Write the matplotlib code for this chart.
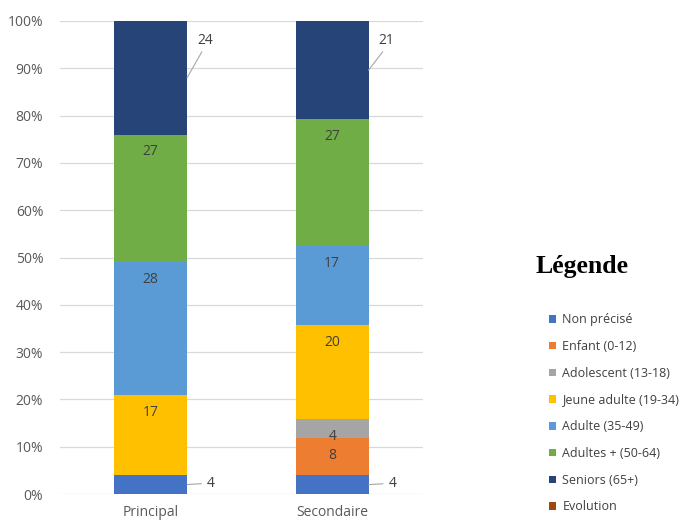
import numpy as np
import matplotlib
matplotlib.use("Agg")
import matplotlib.pyplot as plt
from matplotlib.patches import Patch

plt.rcParams['font.family'] = ['Open Sans', 'DejaVu Sans']

categories = ['Principal', 'Secondaire']
series = ['Non précisé', 'Enfant (0-12)', 'Adolescent (13-18)', 'Jeune adulte (19-34)',
          'Adulte (35-49)', 'Adultes + (50-64)', 'Seniors (65+)', 'Evolution']
colors = ['#4472C4', '#ED7D31', '#A5A5A5', '#FFC000', '#5B9BD5', '#70AD47', '#264478', '#9E480E']

non_precise = [4, 4]
enfant = [0, 8]
adolescent = [0, 4]
jeune_adulte = [17, 20]
adulte = [28, 17]
adultes_plus = [27, 27]
seniors = [24, 21]

values = np.array([non_precise, enfant, adolescent, jeune_adulte, adulte, adultes_plus, seniors], dtype=float)
pct = values / values.sum(axis=0) * 100

fig = plt.figure(figsize=(6.85, 5.21), dpi=100)
ax = fig.add_axes([60/685, 1 - 494/521, 363/685, 473/521])

x = np.arange(len(categories))
width = 0.4
bottom = np.zeros(len(categories))
for i in range(len(values)):
    ax.bar(x, pct[i], width, bottom=bottom, color=colors[i], zorder=3)
    for j in range(len(categories)):
        v = values[i, j]
        if v == 0:
            bottom[j] += pct[i, j]
            continue
        top = bottom[j] + pct[i, j]
        mid = bottom[j] + pct[i, j] / 2
        edge = x[j] + width / 2
        if i == 0:
            # small segment at bottom: label outside with leader line
            ax.annotate('%d' % v, xy=(edge, mid), xytext=(edge + 0.11, mid + 0.3),
                        ha='left', va='center', fontsize=10, color='#404040',
                        arrowprops=dict(arrowstyle='-', color='#A6A6A6', lw=0.8,
                                        shrinkA=2, shrinkB=0))
        elif i == 6:
            ax.annotate('%d' % v, xy=(edge, mid), xytext=(edge + 0.055, 95.9),
                        ha='left', va='center', fontsize=10, color='#404040',
                        arrowprops=dict(arrowstyle='-', color='#A6A6A6', lw=0.8,
                                        shrinkA=1, shrinkB=0, relpos=(0.45, 0)))
        else:
            ax.annotate('%d' % v, xy=(x[j], top), xytext=(0, -12.5),
                        textcoords='offset points', ha='center', va='center',
                        fontsize=10, color='#404040', zorder=4)
        bottom[j] += pct[i, j]

ax.set_xlim(-0.5, 1.5)
ax.set_ylim(0, 100)
ax.set_yticks(np.arange(0, 101, 10))
ax.set_yticklabels(['%d%%' % t for t in range(0, 101, 10)])
ax.set_xticks(x)
ax.set_xticklabels(categories)
ax.tick_params(axis='both', length=0, labelsize=10, colors='#595959')
ax.tick_params(axis='x', pad=8)
ax.tick_params(axis='y', pad=12)
ax.yaxis.grid(True, color='#D9D9D9', lw=0.9, zorder=0)
for s in ax.spines.values():
    s.set_visible(False)

fig.text(582/685, 1 - 266/521, 'Légende', ha='center', va='center',
         fontsize=18.5, fontweight='bold', family='Liberation Serif')

handles = [Patch(facecolor=c, edgecolor='none') for c in colors]
fig.legend(handles, series, loc='upper left', bbox_to_anchor=(538/685, 1 - 302/521),
           frameon=False, fontsize=9, handlelength=0.55, handleheight=0.55,
           handletextpad=0.5, labelspacing=1.1, labelcolor='#404040')

fig.savefig('out.png', dpi=100)
